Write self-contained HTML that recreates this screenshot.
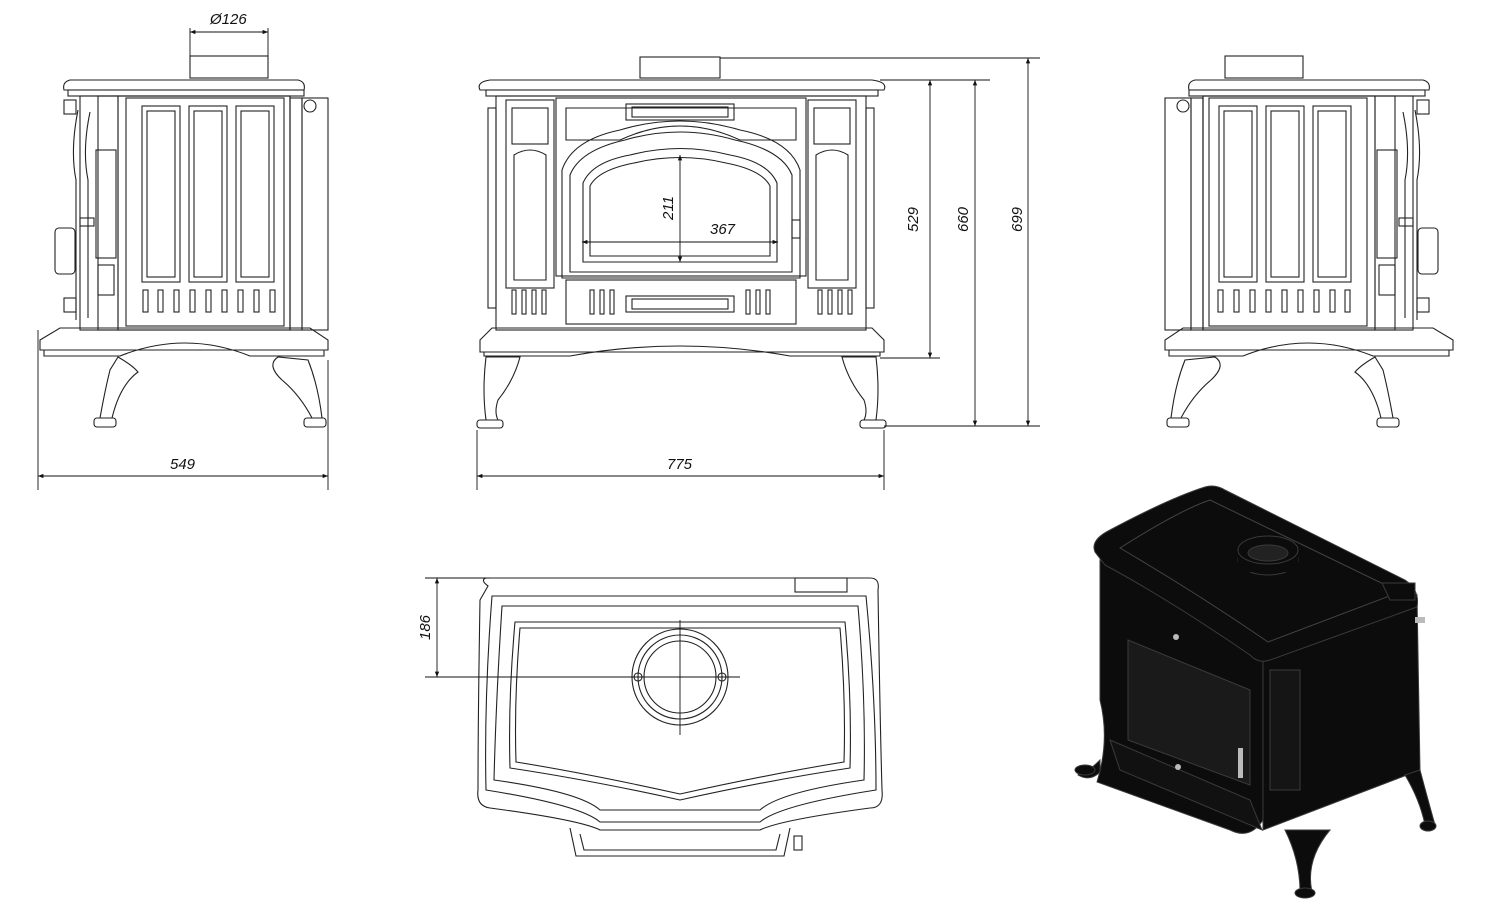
<!DOCTYPE html>
<html><head><meta charset="utf-8"><style>
html,body{margin:0;padding:0;background:#fff;}
svg{display:block;}
text{font-family:"Liberation Sans",sans-serif;font-style:italic;font-size:15px;fill:#111;}
</style></head><body>
<svg width="1509" height="910" viewBox="0 0 1509 910" xmlns="http://www.w3.org/2000/svg">
<defs>
<marker id="a" viewBox="0 0 10 10" refX="10" refY="5" markerWidth="8" markerHeight="6" orient="auto-start-reverse"><path d="M0,1 L10,5 L0,9 z" fill="#111"/></marker>
<g id="side">
 <rect x="190" y="56" width="78" height="22"/>
 <path d="M70,80 H298 Q306,82 304,90 H64 Q62,82 70,80 Z"/>
 <rect x="68" y="90" width="236" height="6"/>
 <rect x="80" y="96" width="210" height="234"/>
 <rect x="118" y="96" width="172" height="234"/>
 <rect x="126" y="98" width="158" height="228"/>
 <rect x="98" y="96" width="20" height="234"/>
 <rect x="290" y="98" width="12" height="232"/>
 <rect x="302" y="98" width="26" height="232"/>
 <circle cx="310" cy="106" r="6"/>
 <rect x="142" y="106" width="38" height="176"/><rect x="147" y="111" width="28" height="166"/>
 <rect x="189" y="106" width="38" height="176"/><rect x="194" y="111" width="28" height="166"/>
 <rect x="236" y="106" width="38" height="176"/><rect x="241" y="111" width="28" height="166"/>
 <g>
  <rect x="143" y="290" width="5" height="22"/><rect x="158" y="290" width="5" height="22"/><rect x="174" y="290" width="5" height="22"/><rect x="190" y="290" width="5" height="22"/><rect x="206" y="290" width="5" height="22"/><rect x="222" y="290" width="5" height="22"/><rect x="238" y="290" width="5" height="22"/><rect x="254" y="290" width="5" height="22"/><rect x="270" y="290" width="5" height="22"/>
 </g>
 <path d="M78,110 Q70,150 76,180 V320"/><path d="M90,112 Q82,150 88,180 V318"/>
 <rect x="96" y="150" width="20" height="108"/><rect x="98" y="265" width="16" height="30"/>
 <rect x="55" y="228" width="20" height="46" rx="4"/>
 <rect x="64" y="100" width="12" height="14"/><rect x="64" y="298" width="12" height="14"/><rect x="80" y="218" width="14" height="8"/>
 <path d="M40,340 L60,328 H310 L328,340 V350 H40 Z"/>
 <path d="M44,350 V356 H120 Q185,330 250,356 H324 V350"/>
 <path d="M118,357 Q132,365 138,372 Q120,385 112,418 H100 Q105,390 110,370 Z"/>
 <rect x="94" y="418" width="22" height="9" rx="3"/>
 <path d="M278,357 Q266,365 282,380 Q300,395 312,418 H322 Q318,385 308,360 Z"/>
 <rect x="304" y="418" width="22" height="9" rx="3"/>
</g>
</defs>

<g fill="none" stroke="#222" stroke-width="1.1">
<use href="#side"/>
<use href="#side" transform="matrix(-1,0,0,1,1493,0)"/>
</g>

<g fill="none" stroke="#222" stroke-width="1.1">
 <rect x="640" y="57" width="80" height="21"/>
 <path d="M490,80 H872 Q888,82 884,90 H480 Q476,82 490,80 Z"/>
 <rect x="486" y="90" width="392" height="6"/>
 <rect x="496" y="96" width="370" height="234"/>
 <rect x="506" y="100" width="48" height="188"/><rect x="512" y="108" width="36" height="36"/><path d="M514,155 Q530,145 546,155 V280 H514 Z"/>
 <rect x="808" y="100" width="48" height="188"/><rect x="814" y="108" width="36" height="36"/><path d="M816,155 Q832,145 848,155 V280 H816 Z"/>
 <rect x="556" y="98" width="250" height="178"/>
 <rect x="626" y="104" width="108" height="16"/><rect x="632" y="107" width="96" height="10"/>
 <path d="M566,108 H796 V140 H740 Q680,112 620,140 H566 Z"/>
 <path d="M562,170 Q572,140 620,130 Q680,112 740,130 Q790,140 800,170 V278 H562 Z"/>
 <path d="M570,175 Q580,150 625,140 Q680,124 735,140 Q782,150 792,175 V272 H570 Z"/>
 <path d="M583,183 Q592,162 630,155 Q680,142 730,155 Q768,162 777,183 V262 H583 Z"/>
 <path d="M590,186 Q598,170 634,163 Q680,152 726,163 Q762,170 770,186 V256 H590 Z"/>
 <rect x="566" y="280" width="230" height="44"/>
 <rect x="626" y="296" width="108" height="16"/><rect x="632" y="299" width="96" height="10"/>
 <rect x="792" y="220" width="8" height="18"/>
 <g>
  <rect x="512" y="290" width="4" height="24"/><rect x="522" y="290" width="4" height="24"/><rect x="532" y="290" width="4" height="24"/><rect x="542" y="290" width="4" height="24"/>
  <rect x="590" y="290" width="4" height="24"/><rect x="600" y="290" width="4" height="24"/><rect x="610" y="290" width="4" height="24"/>
  <rect x="746" y="290" width="4" height="24"/><rect x="756" y="290" width="4" height="24"/><rect x="766" y="290" width="4" height="24"/>
  <rect x="818" y="290" width="4" height="24"/><rect x="828" y="290" width="4" height="24"/><rect x="838" y="290" width="4" height="24"/><rect x="848" y="290" width="4" height="24"/>
 </g>
 <rect x="488" y="108" width="8" height="200"/><rect x="866" y="108" width="8" height="200"/>
 <path d="M480,340 L492,328 H872 L884,340 V352 H480 Z"/>
 <path d="M484,352 V356 H570 Q680,336 790,356 H880 V352"/>
 <path d="M486,357 H520 Q514,380 498,400 Q494,412 498,420 H486 Q482,390 486,357 Z"/>
 <rect x="477" y="420" width="26" height="8" rx="3"/>
 <path d="M876,357 H842 Q848,380 864,400 Q868,412 864,420 H876 Q880,390 876,357 Z"/>
 <rect x="860" y="420" width="26" height="8" rx="3"/>
</g>

<g fill="none" stroke="#222" stroke-width="1.1">
 <path d="M488,586 Q480,580 486,578 H870 Q880,578 878,590 Q880,720 882,790 Q884,808 870,808 Q780,820 760,830 H600 Q580,820 490,808 Q476,806 478,790 Q478,720 480,600 Z"/>
 <path d="M492,596 H866 Q876,700 876,790 Q780,805 760,822 H600 Q580,805 486,790 Q484,700 492,596 Z"/>
 <path d="M502,606 H858 Q866,700 864,780 Q780,792 760,810 H600 Q580,792 494,780 Q496,700 502,606 Z"/>
 <path d="M515,622 H845 Q852,700 850,768 Q770,780 680,800 Q590,780 510,768 Q508,700 515,622 Z"/>
 <path d="M520,628 H840 Q846,700 844,762 Q770,774 680,794 Q590,774 516,762 Q514,700 520,628 Z"/>
 <rect x="795" y="578" width="52" height="14"/>
 <circle cx="680" cy="677" r="48"/><circle cx="680" cy="677" r="42"/><circle cx="680" cy="677" r="36"/>
 <circle cx="638" cy="677" r="4"/><circle cx="722" cy="677" r="4"/>
 <path d="M570,828 L576,856 H784 L790,828"/><path d="M580,834 L584,850 H776 L780,834"/>
 <rect x="794" y="836" width="8" height="14"/>
</g>

<g stroke="#111" stroke-width="0.9" fill="none">
 <line x1="190" y1="32" x2="268" y2="32" marker-start="url(#a)" marker-end="url(#a)"/>
 <line x1="190" y1="28" x2="190" y2="56"/><line x1="268" y1="28" x2="268" y2="56"/>
 <line x1="38" y1="476" x2="328" y2="476" marker-start="url(#a)" marker-end="url(#a)"/>
 <line x1="38" y1="330" x2="38" y2="490"/><line x1="328" y1="360" x2="328" y2="490"/>
 <line x1="477" y1="476" x2="884" y2="476" marker-start="url(#a)" marker-end="url(#a)"/>
 <line x1="477" y1="430" x2="477" y2="490"/><line x1="884" y1="430" x2="884" y2="490"/>
 <line x1="720" y1="58" x2="1040" y2="58"/><line x1="880" y1="80" x2="990" y2="80"/>
 <line x1="880" y1="358" x2="940" y2="358"/><line x1="884" y1="426" x2="1040" y2="426"/>
 <line x1="930" y1="80" x2="930" y2="358" marker-start="url(#a)" marker-end="url(#a)"/>
 <line x1="975" y1="80" x2="975" y2="426" marker-start="url(#a)" marker-end="url(#a)"/>
 <line x1="1028" y1="58" x2="1028" y2="426" marker-start="url(#a)" marker-end="url(#a)"/>
 <line x1="582" y1="242" x2="778" y2="242" marker-start="url(#a)" marker-end="url(#a)"/>
 <line x1="680" y1="155" x2="680" y2="262" marker-start="url(#a)" marker-end="url(#a)"/>
 <line x1="425" y1="578" x2="490" y2="578"/><line x1="425" y1="677" x2="740" y2="677"/>
 <line x1="437" y1="578" x2="437" y2="677" marker-start="url(#a)" marker-end="url(#a)"/>
 <line x1="680" y1="620" x2="680" y2="735"/>
</g>
<text x="210" y="24">Ø126</text>
<text x="170" y="469">549</text>
<text x="667" y="469">775</text>
<text x="710" y="234">367</text>
<text transform="translate(673,220) rotate(-90)">211</text>
<text transform="translate(918,232) rotate(-90)">529</text>
<text transform="translate(968,232) rotate(-90)">660</text>
<text transform="translate(1022,232) rotate(-90)">699</text>
<text transform="translate(430,640) rotate(-90)">186</text>

<g fill="#0c0c0c" stroke="#3a3a3a" stroke-width="1">
 <path d="M1097,782 Q1110,740 1100,700 L1100,560 L1263,655 L1263,820 Q1250,840 1230,830 Z"/>
 <path d="M1263,655 L1417,595 L1420,770 L1263,830 Z"/>
 <path d="M1095,552 Q1090,540 1110,530 Q1170,498 1205,487 Q1215,484 1225,490 L1405,580 Q1420,590 1417,607 L1270,660 Q1258,664 1250,655 Q1170,600 1105,565 Z"/>
 <path d="M1120,548 Q1180,510 1210,500 L1400,592 L1268,642 Q1200,595 1120,548 Z" fill="none" stroke="#444"/>
 <ellipse cx="1268" cy="560" rx="30" ry="15"/>
 <rect x="1238" y="550" width="60" height="22" stroke="none"/>
 <ellipse cx="1268" cy="550" rx="30" ry="14"/>
 <ellipse cx="1268" cy="553" rx="20" ry="8" fill="#222"/>
 <path d="M1382,583 H1415 V600 H1390 Z"/>
 <path d="M1128,640 L1250,690 V785 L1128,740 Z" fill="#1a1a1a"/>
 <path d="M1270,670 H1300 V790 H1270 Z" fill="#151515"/>
 <path d="M1100,760 Q1085,775 1082,770 L1078,775 Q1090,782 1100,772 Z"/>
 <ellipse cx="1085" cy="770" rx="10" ry="5"/>
 <path d="M1285,830 Q1300,860 1300,892 H1312 Q1305,860 1330,830 Z"/>
 <ellipse cx="1305" cy="893" rx="10" ry="5"/>
 <path d="M1405,775 Q1420,800 1425,825 H1435 Q1428,800 1420,770 Z"/>
 <ellipse cx="1428" cy="826" rx="8" ry="5"/>
 <path d="M1110,740 L1250,800 L1262,830 L1120,770 Z" fill="#111"/>
</g>
<g fill="#bbb"><rect x="1238" y="748" width="5" height="30"/><rect x="1415" y="617" width="10" height="6"/><circle cx="1176" cy="637" r="3"/><circle cx="1178" cy="767" r="3"/></g>
</svg>
</body></html>
